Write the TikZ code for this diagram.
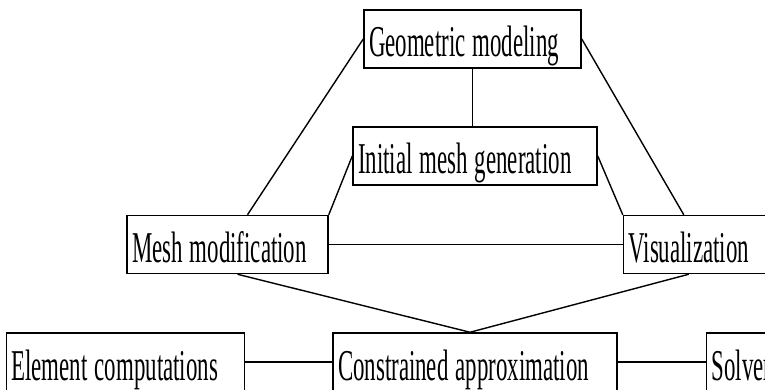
\documentclass[tikz,border=0pt]{standalone}
\usepackage{fontspec}
\setmainfont{Liberation Serif}[FakeStretch=0.52]
\usetikzlibrary{positioning}
\tikzset{
  procbox/.style={rectangle,draw=black,line width=1.5pt,fill=white,
    inner xsep=5pt,inner ysep=0pt,text height=47pt,text depth=11pt,
    font=\fontsize{44}{50}\selectfont},
  link/.style={line width=1.4pt}
}
\newcommand{\boxtext}[2]{\makebox[#1][l]{\spaceskip=7pt\relax#2}}
\begin{document}
\begin{tikzpicture}[x=1pt,y=1pt]
  \useasboundingbox (0,0) rectangle (765,-390);
  \clip (0,0) rectangle (765,-390);

  \node[procbox] (geo) at (472.5,-39) {\boxtext{207pt}{Geometric modeling}};
  \node[procbox] (init) at (475,-156) {\boxtext{234pt}{Initial mesh generation}};
  \node[procbox] (meshmod) at (227.5,-244.5) {\boxtext{191pt}{Mesh modification}};
  \node[procbox,right=294pt of meshmod] (vis) {\boxtext{150pt}{Visualization}};
  \node[procbox] (constr) at (475,-362) {\boxtext{274pt}{Constrained approximation}};
  \node[procbox,left=87pt of constr] (elem) {\boxtext{228pt}{Element computations}};
  \node[procbox,right=88pt of constr] (solver) {\boxtext{90pt}{Solver}};

  \draw[link] (geo.west) -- ([xshift=20pt]meshmod.north);
  \draw[link] (geo.east) -- ([xshift=61pt]vis.north west);
  \draw[link] (geo.south) -- (geo.south |- init.north);
  \draw[link] (init.west) -- (meshmod.north east);
  \draw[link] (init.east) -- (vis.north west);
  \draw[link] (meshmod.east) -- (vis.west);
  \draw[link] ([xshift=10pt]meshmod.south) -- ([xshift=-5pt]constr.north);
  \draw[link] ([xshift=66pt]vis.south west) -- ([xshift=-5pt]constr.north);
  \draw[link] (elem.east) -- (constr.west);
  \draw[link] (constr.east) -- (solver.west);
\end{tikzpicture}
\end{document}
